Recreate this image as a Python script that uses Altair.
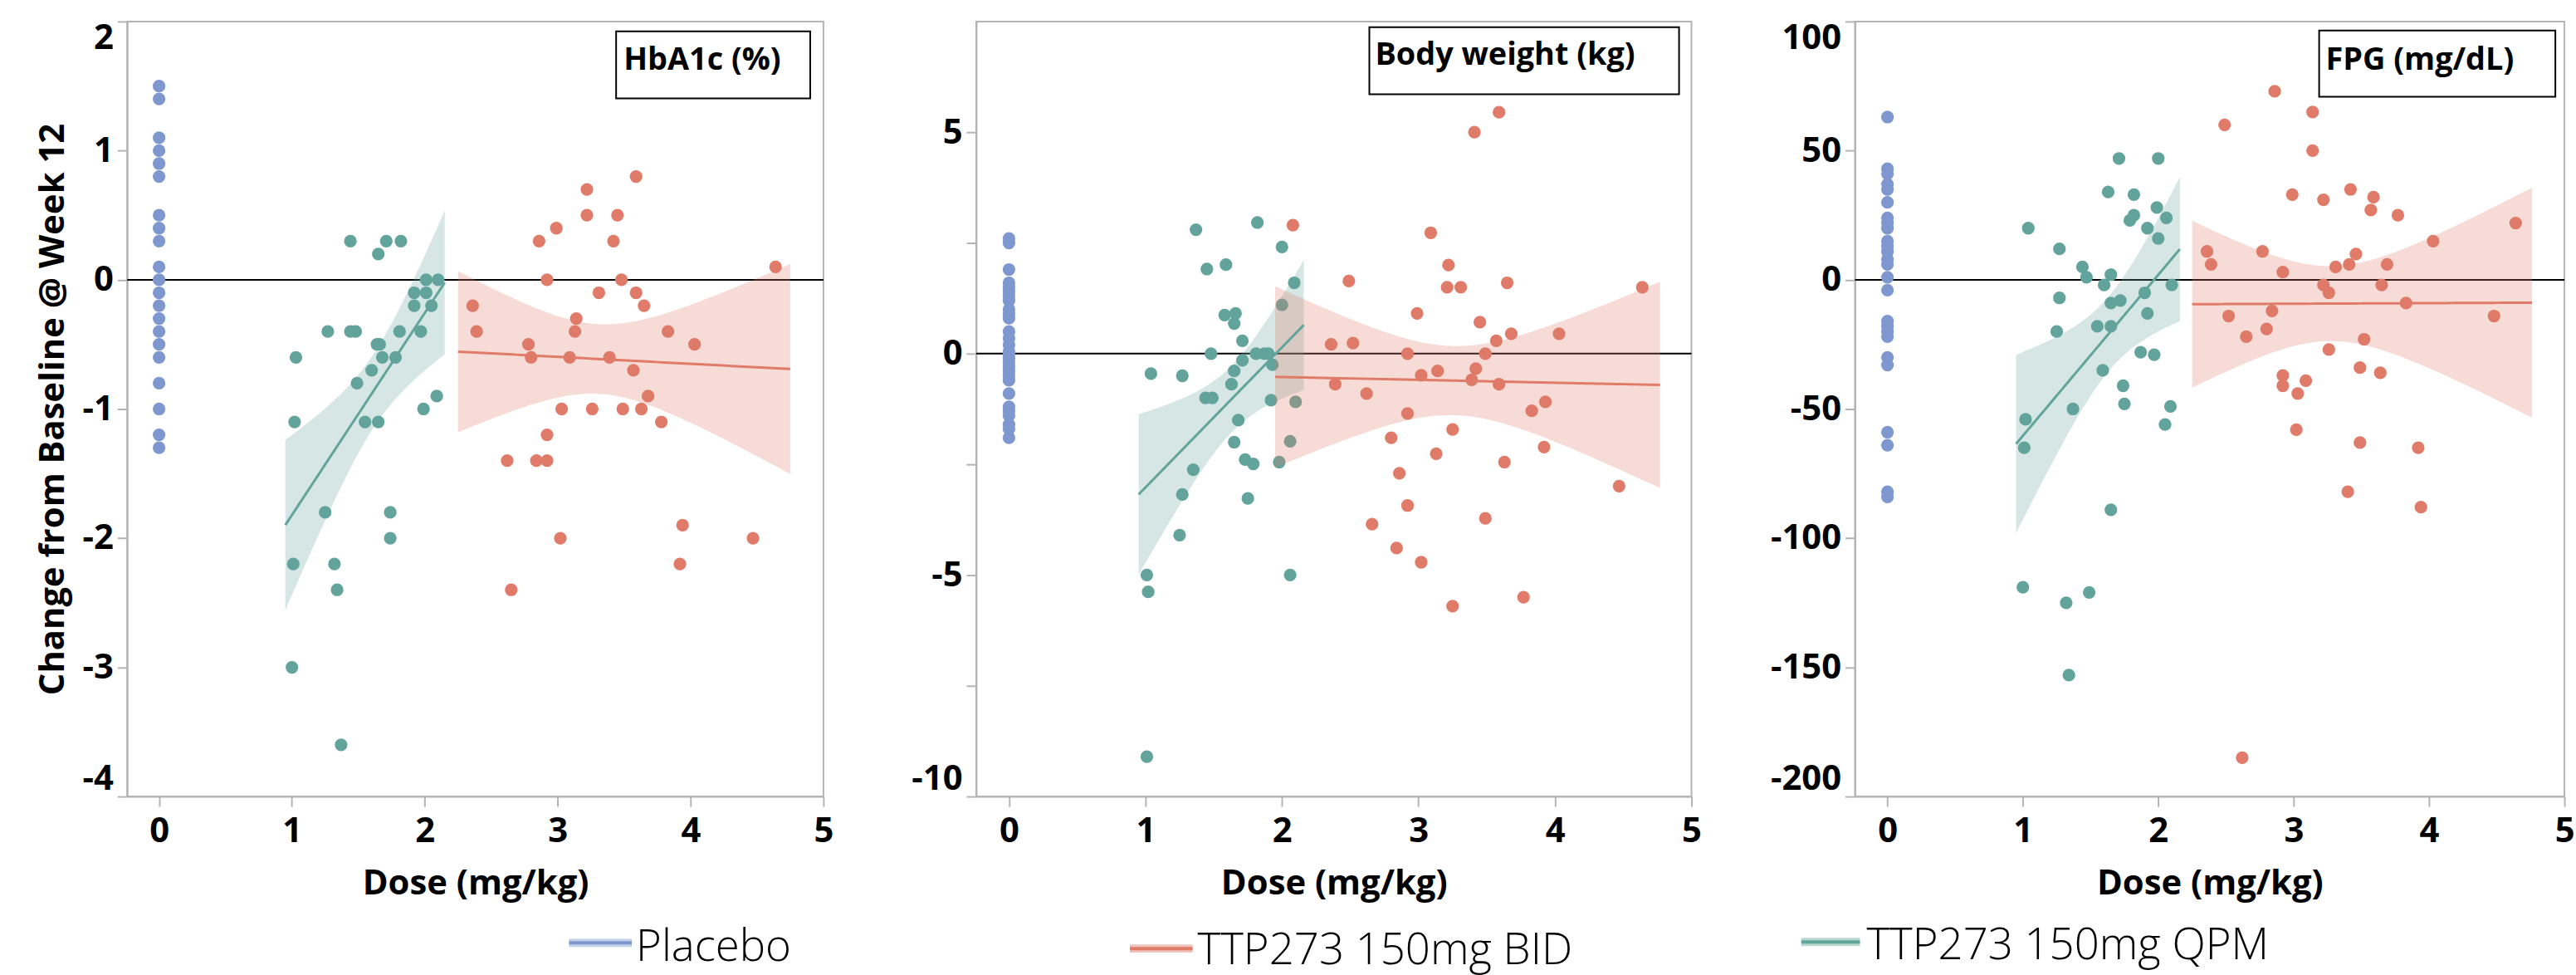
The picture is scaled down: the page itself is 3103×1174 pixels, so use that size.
import altair as alt
import numpy as np
import pandas as pd

GROUPS = ["Placebo", "TTP273 150mg BID", "TTP273 150mg QPM"]
COLORS = ["#7F97CF", "#E07B69", "#62A49B"]

# ---------------- Panel 1: HbA1c (%) ----------------
hba_pbo_y = [1.5, 1.4, 1.1, 1.0, 0.9, 0.8, 0.5, 0.4, 0.3, 0.1, 0.0, -0.1, -0.2, -0.3,
             -0.4, -0.5, -0.6, -0.8, -1.0, -1.2, -1.3]
hba_qpm_x = [1.44, 1.65, 1.71, 1.82, 1.03, 1.02, 1.27, 1.44, 1.48, 1.64, 1.66, 1.60, 1.68,
             1.78, 1.81, 1.49, 1.55, 1.65, 1.92, 2.01, 1.92, 2.05, 2.01, 2.10, 1.97, 1.99,
             2.09, 1.25, 1.74, 1.74, 1.01, 1.32, 1.34, 1.00, 1.37]
hba_qpm_y = [0.3, 0.2, 0.3, 0.3, -0.6, -1.1, -0.4, -0.4, -0.4, -0.5, -0.5, -0.7, -0.6,
             -0.6, -0.4, -0.8, -1.1, -1.1, -0.1, -0.1, -0.2, -0.2, 0.0, 0.0, -0.4, -1.0,
             -0.9, -1.8, -1.8, -2.0, -2.2, -2.2, -2.4, -3.0, -3.6]
hba_bid_x = [4.64, 3.59, 3.22, 3.22, 3.45, 2.99, 2.86, 3.42, 2.92, 3.48, 3.31, 3.59, 3.65,
             2.36, 2.39, 3.14, 3.13, 3.83, 4.03, 2.78, 2.80, 3.09, 3.39, 3.57, 3.68, 3.03,
             3.26, 3.49, 3.63, 3.78, 2.92, 2.62, 2.84, 2.92, 3.02, 3.94, 4.47, 3.92, 2.65]
hba_bid_y = [0.1, 0.8, 0.7, 0.5, 0.5, 0.4, 0.3, 0.3, 0.0, 0.0, -0.1, -0.1, -0.2,
             -0.2, -0.4, -0.3, -0.4, -0.4, -0.5, -0.5, -0.6, -0.6, -0.6, -0.7, -0.9, -1.0,
             -1.0, -1.0, -1.0, -1.1, -1.2, -1.4, -1.4, -1.4, -2.0, -1.9, -2.0, -2.2, -2.4]
hba_qpm_fit_range = [0.95, 2.15]
hba_bid_fit_range = [2.25, 4.75]
hba_y_domain = [-4, 2]
hba_y_ticks = [-4, -3, -2, -1, 0, 1, 2]

# ---------------- Panel 2: Body weight (kg) ----------------
bw_pbo_y = [2.6, 2.5, 1.9, 1.6, 1.5, 1.4, 1.3, 1.2, 1.0, 0.9, 0.8, 0.5, 0.35, 0.2, 0.05,
            0.0, -0.1, -0.2, -0.3, -0.4, -0.5, -0.6, -0.9, -1.2, -1.3, -1.4, -1.6, -1.7, -1.9]
bw_qpm_x = [1.37, 1.82, 2.00, 1.45, 1.59, 2.09, 2.00, 1.58, 1.66, 1.65, 1.71, 1.48, 1.81,
            1.87, 1.90, 1.71, 1.93, 1.65, 1.63, 1.04, 1.27, 1.44, 1.49, 1.92, 2.10, 1.68,
            1.65, 2.06, 1.73, 1.79, 1.98, 1.35, 1.27, 1.75, 1.25, 1.01, 1.02, 2.06, 1.01]
bw_qpm_y = [2.8, 2.96, 2.41, 1.91, 2.01, 1.6, 1.1, 0.87, 0.91, 0.68, 0.29, 0.0, 0.0,
            0.0, 0.0, -0.15, -0.25, -0.39, -0.69, -0.45, -0.5, -1.0, -1.0, -1.05, -1.09, -1.5,
            -2.0, -1.98, -2.39, -2.49, -2.45, -2.62, -3.18, -3.27, -4.1, -5.0, -5.38, -5.0, -9.1]
bw_bid_x = [2.08, 3.59, 3.41, 3.09, 3.22, 3.21, 3.31, 3.65, 2.49, 4.64, 2.99, 3.45, 3.68,
            4.03, 2.36, 2.52, 3.57, 2.92, 3.49, 3.02, 3.14, 3.42, 3.39, 3.59, 2.39, 2.62,
            3.93, 3.83, 2.92, 3.25, 2.80, 3.13, 3.63, 3.92, 2.86, 4.47, 2.92, 3.49, 2.66,
            2.84, 3.02, 3.25, 3.77]
bw_bid_y = [2.9, 5.45, 5.0, 2.73, 2.0, 1.5, 1.5, 1.6, 1.64, 1.5, 0.91, 0.71, 0.45,
            0.45, 0.21, 0.24, 0.29, 0.0, 0.0, -0.49, -0.39, -0.34, -0.59, -0.69, -0.69, -0.9,
            -1.09, -1.29, -1.35, -1.71, -1.9, -2.26, -2.45, -2.11, -2.7, -2.99, -3.43, -3.72, -3.85,
            -4.39, -4.71, -5.7, -5.5]
bw_qpm_fit_range = [0.95, 2.16]
bw_bid_fit_range = [1.95, 4.77]
bw_y_domain = [-10, 7.5]
bw_y_ticks = [-10, -7.5, -5, -2.5, 0, 2.5, 5]

# ---------------- Panel 3: FPG (mg/dL) ----------------
fpg_pbo_y = [63, 43, 41, 37, 35, 30, 24, 22, 20, 15, 13, 11, 8, 6, 1, -4, -16, -18, -20,
             -22, -30, -33, -59, -64, -82, -84]
fpg_qpm_x = [1.71, 2.00, 1.63, 1.82, 1.99, 1.82, 1.79, 2.06, 1.92, 2.00, 1.04, 1.27, 1.44,
             1.47, 1.65, 1.60, 2.10, 1.27, 1.65, 1.72, 1.90, 1.92, 1.25, 1.55, 1.65, 1.87,
             1.97, 1.59, 1.74, 1.75, 1.37, 2.09, 2.05, 1.02, 1.01, 1.65, 1.00, 1.32, 1.49, 1.34]
fpg_qpm_y = [47, 47, 34, 33, 28, 25, 23, 24, 20, 16, 20, 12, 5,
             1, 2, -2, -2, -7, -9, -8, -5, -13, -20, -18, -18, -28,
             -29, -35, -41, -48, -50, -49, -56, -54, -65, -89, -119, -125, -121, -153]
fpg_bid_x = [2.86, 2.49, 3.14, 3.14, 2.99, 3.22, 3.42, 3.59, 3.57, 3.77, 4.64, 4.03, 2.36,
             2.39, 2.77, 3.46, 2.92, 3.31, 3.41, 3.69, 3.22, 3.26, 3.65, 3.83, 2.84, 2.52,
             4.48, 2.80, 2.65, 3.52, 3.26, 3.49, 3.64, 2.92, 2.92, 3.09, 3.03, 3.02, 3.49,
             3.92, 3.40, 3.94, 2.62]
fpg_bid_y = [73, 60, 65, 50, 33, 31, 35, 32, 27, 25, 22, 15, 11,
             6, 11, 10, 3, 5, 6, 6, -2, -5, -2, -9, -12, -14,
             -14, -19, -22, -23, -27, -34, -36, -37, -41, -39, -44, -58, -63,
             -65, -82, -88, -185]
fpg_qpm_fit_range = [0.95, 2.16]
fpg_bid_fit_range = [2.25, 4.76]
fpg_y_domain = [-200, 100]
fpg_y_ticks = [-200, -150, -100, -50, 0, 50, 100]

X_DOMAIN = [-0.24, 5]
X_TICKS = [0, 1, 2, 3, 4, 5]
PLOT_H = 938


def t975(dof):
    return 1.96 + 2.4 / dof + 2.0 / dof ** 2


def fit_band(xs, ys, rng, group, n=80):
    x = np.asarray(xs, dtype=float)
    y = np.asarray(ys, dtype=float)
    b, a = np.polyfit(x, y, 1)
    res = y - (a + b * x)
    dof = len(x) - 2
    s = np.sqrt((res ** 2).sum() / dof)
    xbar = x.mean()
    sxx = ((x - xbar) ** 2).sum()
    grid = np.linspace(rng[0], rng[1], n)
    pred = a + b * grid
    se = s * np.sqrt(1.0 / len(x) + (grid - xbar) ** 2 / sxx)
    t = t975(dof)
    return pd.DataFrame({"dose": grid, "change": pred, "lo": pred - t * se,
                         "hi": pred + t * se, "group": group})


def panel(label, pbo_y, qpm_x, qpm_y, bid_x, bid_y, qpm_rng, bid_rng, ydom, yticks,
          width, box, legend_item, ytitle=False, half_labels=False):
    pts = pd.concat([
        pd.DataFrame({"dose": [0.0] * len(pbo_y), "change": pbo_y, "group": GROUPS[0]}),
        pd.DataFrame({"dose": bid_x, "change": bid_y, "group": GROUPS[1]}),
        pd.DataFrame({"dose": qpm_x, "change": qpm_y, "group": GROUPS[2]}),
    ], ignore_index=True)
    fits = pd.concat([fit_band(qpm_x, qpm_y, qpm_rng, GROUPS[2]),
                      fit_band(bid_x, bid_y, bid_rng, GROUPS[1])], ignore_index=True)
    fits["change_hi"] = fits["hi"]
    band = fits[["dose", "lo", "change_hi", "group"]].rename(columns={"lo": "change"})

    color = alt.Color("group:N", scale=alt.Scale(domain=GROUPS, range=COLORS), legend=None)
    if half_labels:
        lexpr = "datum.value % 5 == 0 ? toString(datum.value) : ''"
    else:
        lexpr = "toString(datum.value)"
    yaxis_kwargs = dict(values=yticks, labelExpr=lexpr, labelFlush=True, labelPadding=5)
    if ytitle:
        yaxis_kwargs["title"] = "Change from Baseline @ Week 12"
        yaxis_kwargs["titlePadding"] = 14
    else:
        yaxis_kwargs["title"] = None
    x = alt.X("dose:Q", scale=alt.Scale(domain=X_DOMAIN, nice=False, zero=False),
              axis=alt.Axis(values=X_TICKS, title="Dose (mg/kg)", labelFlush=False,
                            labelPadding=10, titlePadding=22, format="d"))
    y = alt.Y("change:Q", scale=alt.Scale(domain=ydom, nice=False, zero=False),
              axis=alt.Axis(**yaxis_kwargs))

    zero = alt.Chart(pd.DataFrame({"change": [0.0]})).mark_rule(
        color="black", strokeWidth=2).encode(y="change:Q")
    points = alt.Chart(pts).mark_circle(size=235, opacity=1).encode(x=x, y=y, color=color)
    bands = alt.Chart(band).mark_area(opacity=0.27).encode(
        x="dose:Q", y="change:Q", y2="change_hi:Q", color=color)
    lines = alt.Chart(fits).mark_line(strokeWidth=3).encode(
        x="dose:Q", y="change:Q", color=color)

    one = pd.DataFrame({"k": [0]})
    bx0, bx1, by0, by1, tx, ty = box
    box_rect = alt.Chart(one).mark_rect(fill="white", stroke="black", strokeWidth=2).encode(
        x=alt.value(bx0), x2=alt.value(bx1), y=alt.value(by0), y2=alt.value(by1))
    box_text = alt.Chart(one).mark_text(
        text=label, font="Open Sans", fontSize=38, fontWeight="bold", align="left",
        baseline="alphabetic", color="black").encode(x=alt.value(tx), y=alt.value(ty))

    gi, sx0, sx1, sy, lx, ly = legend_item
    leg_band = alt.Chart(one).mark_rect(color=COLORS[gi], opacity=0.45).encode(
        x=alt.value(sx0), x2=alt.value(sx1), y=alt.value(sy - 5), y2=alt.value(sy + 5))
    leg_line = alt.Chart(one).mark_rule(color=COLORS[gi], strokeWidth=4).encode(
        x=alt.value(sx0), x2=alt.value(sx1), y=alt.value(sy))
    leg_text = alt.Chart(one).mark_text(
        text=GROUPS[gi], font="Open Sans", fontSize=53, fontWeight=300, align="left",
        baseline="alphabetic", color="black").encode(x=alt.value(lx), y=alt.value(ly))

    return alt.layer(zero, points, bands, lines, box_rect, box_text,
                     leg_band, leg_line, leg_text).properties(width=width, height=PLOT_H)


p1 = panel("HbA1c (%)", hba_pbo_y, hba_qpm_x, hba_qpm_y, hba_bid_x, hba_bid_y,
           hba_qpm_fit_range, hba_bid_fit_range, hba_y_domain, hba_y_ticks, 843,
           (592, 827, 12, 93, 601, 58), (0, 535, 611, 1115, 616, 1137), ytitle=True)
p2 = panel("Body weight (kg)", bw_pbo_y, bw_qpm_x, bw_qpm_y, bw_bid_x, bw_bid_y,
           bw_qpm_fit_range, bw_bid_fit_range, bw_y_domain, bw_y_ticks, 866,
           (476, 851, 7, 88, 483, 52), (1, 186, 262, 1122, 268, 1141), half_labels=True)
p3 = panel("FPG (mg/dL)", fpg_pbo_y, fpg_qpm_x, fpg_qpm_y, fpg_bid_x, fpg_bid_y,
           fpg_qpm_fit_range, fpg_bid_fit_range, fpg_y_domain, fpg_y_ticks, 859,
           (562, 848, 11, 91, 570, 58), (2, -65, 6, 1114, 14, 1135))

chart = alt.hconcat(alt.hconcat(p1, p2, spacing=91), p3, spacing=80).properties(
    padding={"left": 41, "top": 21, "right": 0, "bottom": 0},
    background="white"
).configure_view(
    stroke="#b4b4b4", strokeWidth=2
).configure_axis(
    labelFont="Open Sans", labelFontSize=42, labelFontWeight="bold", labelColor="black",
    titleFont="Open Sans", titleFontSize=42, titleFontWeight="bold", titleColor="black",
    domainColor="#b4b4b4", domainWidth=2, tickColor="#b4b4b4", tickWidth=2, tickSize=12,
    grid=False
)

chart.save("out.html", embed_options={"renderer": "svg", "actions": False})
